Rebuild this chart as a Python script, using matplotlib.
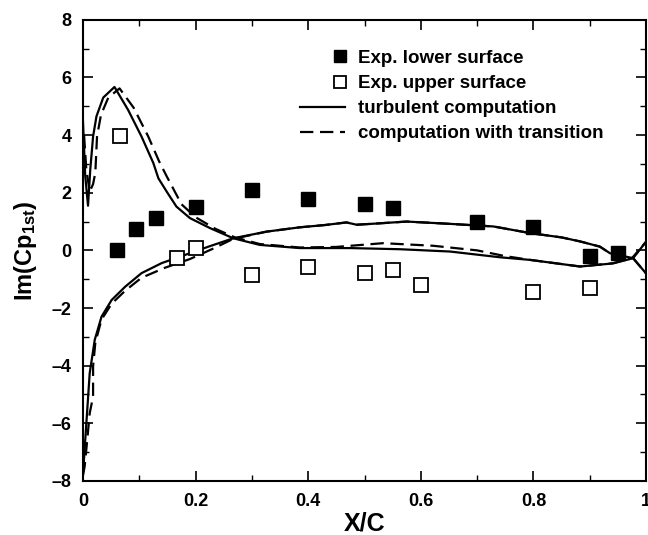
import matplotlib
matplotlib.use('Agg')
import matplotlib.pyplot as plt
from matplotlib.ticker import MultipleLocator
from matplotlib.legend_handler import HandlerLine2D

plt.rcParams['font.family'] = ['Liberation Sans', 'DejaVu Sans']
plt.rcParams['font.weight'] = 'bold'
plt.rcParams['mathtext.fontset'] = 'custom'
plt.rcParams['mathtext.bf'] = 'Liberation Sans:bold'
plt.rcParams['mathtext.rm'] = 'Liberation Sans:bold'
plt.rcParams['mathtext.it'] = 'Liberation Sans:bold'

# Donnees experimentales
x_lower_exp = [0.061, 0.095, 0.13, 0.20, 0.30, 0.40, 0.50, 0.55, 0.70, 0.80, 0.90, 0.95]
y_lower_exp = [0.0, 0.75, 1.13, 1.5, 2.1, 1.79, 1.6, 1.47, 0.97, 0.82, -0.2, -0.1]

x_upper_exp = [0.065, 0.167, 0.20, 0.30, 0.40, 0.50, 0.55, 0.60, 0.80, 0.90]
y_upper_exp = [3.97, -0.26, 0.08, -0.85, -0.57, -0.78, -0.68, -1.2, -1.44, -1.3]

# Calcul turbulent (extrados / intrados)
x_turb_up = [0.0, 0.004, 0.009, 0.013, 0.018, 0.024, 0.036, 0.056, 0.08, 0.104, 0.125,
             0.134, 0.15, 0.166, 0.19, 0.226, 0.267, 0.314, 0.385, 0.474, 0.563, 0.652,
             0.741, 0.794, 0.883, 0.942, 0.977, 1.0]
y_turb_up = [4.5, 2.6, 1.55, 2.8, 3.95, 4.65, 5.3, 5.67, 4.88, 3.95, 3.03,
             2.5, 2.0, 1.52, 1.12, 0.77, 0.42, 0.19, 0.08, 0.08, 0.04, -0.04,
             -0.24, -0.33, -0.56, -0.45, -0.27, 0.3]

x_turb_low = [0.0, 0.004, 0.012, 0.021, 0.033, 0.051, 0.075, 0.104, 0.14, 0.181, 0.223,
              0.267, 0.326, 0.385, 0.43, 0.468, 0.486, 0.52, 0.575, 0.652, 0.729, 0.794,
              0.85, 0.883, 0.918, 0.936, 0.96, 0.977, 1.0]
y_turb_low = [-7.8, -6.6, -4.26, -3.1, -2.3, -1.72, -1.26, -0.79, -0.44, -0.16, 0.13,
              0.42, 0.65, 0.8, 0.88, 0.97, 0.89, 0.93, 1.0, 0.92, 0.83, 0.6,
              0.45, 0.31, 0.13, -0.1, -0.2, -0.27, -0.8]

# Calcul avec transition
x_trans_up = [0.002, 0.006, 0.012, 0.018, 0.022, 0.025, 0.032, 0.045, 0.065, 0.09, 0.116,
              0.135, 0.149, 0.175, 0.2, 0.235, 0.27, 0.314, 0.385, 0.45, 0.533, 0.622,
              0.70, 0.75, 0.794, 0.883, 0.94, 0.975, 1.0]
y_trans_up = [4.0, 2.8, 2.04, 2.3, 2.7, 3.95, 4.7, 5.3, 5.62, 4.95, 3.95,
              3.1, 2.56, 1.6, 1.15, 0.75, 0.45, 0.22, 0.1, 0.12, 0.25, 0.16,
              0.0, -0.2, -0.33, -0.56, -0.45, -0.27, 0.3]

x_trans_low = [0.0, 0.003, 0.008, 0.012, 0.018, 0.018, 0.022, 0.033, 0.051, 0.075, 0.104,
               0.146, 0.19, 0.23, 0.267, 0.326, 0.385, 0.43, 0.468, 0.486, 0.52, 0.575,
               0.652, 0.729, 0.794, 0.85, 0.883, 0.918, 0.936, 0.96, 0.977, 1.0]
y_trans_low = [-7.8, -7.5, -6.5, -5.65, -5.07, -4.03, -3.2, -2.4, -1.85, -1.4, -0.95,
               -0.6, -0.3, 0.05, 0.4, 0.65, 0.8, 0.88, 0.97, 0.89, 0.93, 1.0,
               0.92, 0.83, 0.6, 0.45, 0.31, 0.13, -0.1, -0.2, -0.27, -0.8]

x_ticks = [0, 0.2, 0.4, 0.6, 0.8, 1.0]
x_labels = ['0', '0.2', '0.4', '0.6', '0.8', '1']
y_ticks = [-8, -6, -4, -2, 0, 2, 4, 6, 8]
y_labels = ['\u20138', '\u20136', '\u20134', '\u20132', '0', '2', '4', '6', '8']


# marqueur de legende a droite du segment, comme sur l'original
class RightMarker(HandlerLine2D):
    def create_artists(self, legend, orig_handle, xdescent, ydescent, width, height,
                       fontsize, trans):
        artists = super().create_artists(legend, orig_handle, xdescent, ydescent,
                                         width, height, fontsize, trans)
        for a in artists:
            x = list(a.get_xdata())
            if len(x) == 3:
                a.set_xdata([x[0], x[0] + 0.9 * (x[2] - x[0]), x[2]])
        return artists


fig = plt.figure(figsize=(6.48, 5.35), dpi=100)
ax = fig.add_axes([0.128, 0.101, 0.869, 0.862])

l1, = ax.plot(x_lower_exp, y_lower_exp, 's', color='black', markersize=10,
              label='Exp. lower surface', zorder=3)
l2, = ax.plot(x_upper_exp, y_upper_exp, 's', markerfacecolor='white', markeredgecolor='black',
              markeredgewidth=1.3, markersize=10, label='Exp. upper surface', zorder=3)
ax.plot(x_turb_up, y_turb_up, '-', color='black', lw=1.6, label='turbulent computation')
ax.plot(x_turb_low, y_turb_low, '-', color='black', lw=1.6)
ax.plot(x_trans_up, y_trans_up, '--', color='black', lw=1.6, dashes=(6, 3),
        label='computation with transition')
ax.plot(x_trans_low, y_trans_low, '--', color='black', lw=1.6, dashes=(6, 3))

ax.set_xlim(0, 1)
ax.set_ylim(-8, 8)
ax.set_xticks(x_ticks)
ax.set_xticklabels(x_labels)
ax.set_yticks(y_ticks)
ax.set_yticklabels(y_labels)
ax.xaxis.set_minor_locator(MultipleLocator(0.1))
ax.yaxis.set_minor_locator(MultipleLocator(1))
ax.tick_params(which='both', direction='in', top=True, right=True, labelsize=13)
ax.tick_params(which='major', length=7, width=1.2)
ax.tick_params(which='minor', length=4, width=1.0)
ax.tick_params(axis='x', which='major', pad=9)
ax.tick_params(axis='y', which='major', pad=8)
for s in ax.spines.values():
    s.set_linewidth(1.5)

ax.set_xlabel('X/C', fontsize=18, fontweight='bold', labelpad=1)
ax.set_ylabel(r'$\mathbf{Im(Cp_{1st})}$', fontsize=17, labelpad=9)

ax.legend(loc='upper left', bbox_to_anchor=(0.385, 0.935), frameon=False, fontsize=13.5,
          handlelength=2.4, handletextpad=0.7, labelspacing=0.43, numpoints=1,
          borderpad=0, borderaxespad=0, markerscale=0.8,
          handler_map={l1: RightMarker(), l2: RightMarker()})

plt.savefig('out.png', dpi=100)
